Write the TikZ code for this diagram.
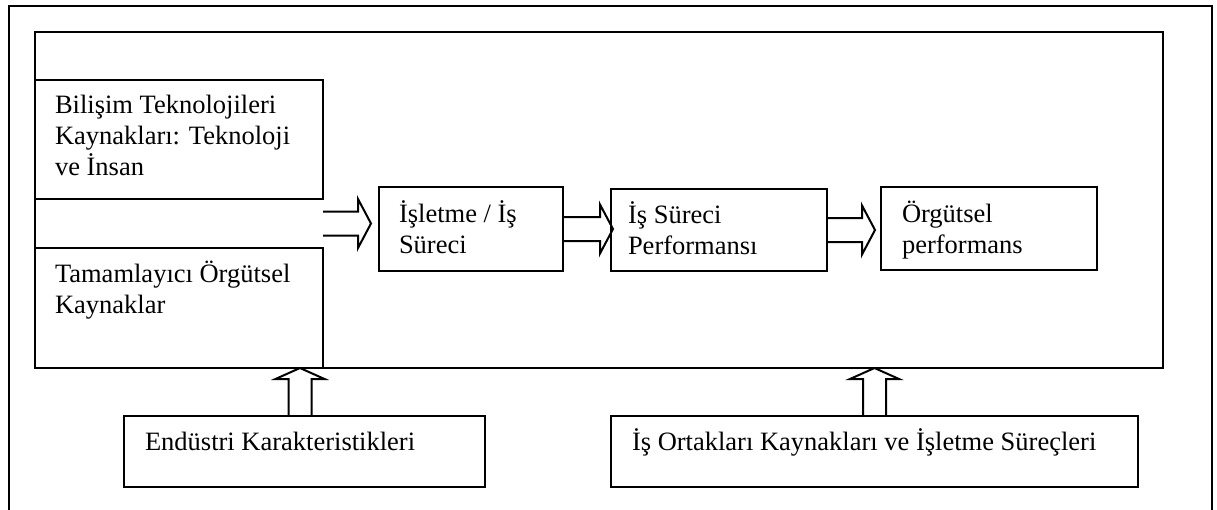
\documentclass[tikz,border=0pt]{standalone}
\usepackage{fontspec}
\setmainfont{Liberation Serif}
\usetikzlibrary{calc}

\tikzset{
  ink/.style={line width=2pt, line join=miter},
  box/.style={ink, draw, rectangle, inner sep=0pt, outer sep=0pt, anchor=north west},
  % multi-line texts are placed by the baseline of their last line
  boxtext/.style={anchor=base west, inner sep=0pt, outer sep=0pt, align=left,
    font=\fontsize{26.5}{31}\selectfont},
  blockarrow/.style={ink},
}

% horizontal block arrow: #1 = start of shaft, #2 = tip (same height)
\newcommand{\blockarrowh}[2]{%
  \draw[blockarrow] ($(#1)+(0,-12)$) -- ($(#2)+(-13,-12)$) -- ($(#2)+(-13,-24.5)$)
    -- (#2) -- ($(#2)+(-13,24.5)$) -- ($(#2)+(-13,12)$) -- ($(#1)+(0,12)$);}
% upward block arrow: #1 = foot of shaft, #2 = tip
\newcommand{\blockarrowv}[2]{%
  \draw[blockarrow] ($(#1)+(-11.5,0)$) -- ($(#2)+(-11.5,11)$) -- ($(#2)+(-24.5,11)$)
    -- (#2) -- ($(#2)+(24.5,11)$) -- ($(#2)+(11.5,11)$) -- ($(#1)+(11.5,0)$);}

\begin{document}
\begin{tikzpicture}[x=1pt, y=-1pt]
\useasboundingbox (0,0) rectangle (1217,509);

% page frame (open at the bottom)
\draw[ink] (9,520) -- (9,6) -- (1212,6) -- (1212,520);

% enclosing box
\node[box, minimum width=1128pt, minimum height=336pt] (inner) at (35,32) {};

% resource boxes
\node[box, minimum width=288pt, minimum height=119pt] (bt)  at (35,80)  {};
\node[box, minimum width=288pt, minimum height=120pt] (tam) at (35,248) {};

% process chain
\node[box, minimum width=184pt, minimum height=84pt] (isl) at (379,187) {};
\node[box, minimum width=216pt, minimum height=82pt] (iss) at (611,189) {};
\node[box, minimum width=216pt, minimum height=83pt] (org) at (881,187) {};

% external factors
\node[box, minimum width=361pt, minimum height=71pt] (end) at (124,416) {};
\node[box, minimum width=527pt, minimum height=71pt] (ort) at (611,416) {};

% texts
\node[boxtext] (btT)  at (55,175)  {Bilişim Teknolojileri\\Kaynakları: Teknoloji\\ve İnsan};
\node[boxtext] (tamT) at (55,313)  {Tamamlayıcı Örgütsel\\Kaynaklar};
\node[boxtext] (islT) at (399,253) {İşletme / İş\\Süreci};
\node[boxtext] (issT) at (628,254) {İş Süreci\\Performansı};
\node[boxtext] (orgT) at (902,253) {Örgütsel\\performans};
\node[boxtext] (endT) at (145,450) {Endüstri Karakteristikleri};
\node[boxtext] (ortT) at (632,450) {İş Ortakları Kaynakları ve İşletme Süreçleri};

% arrows along the chain
\coordinate (a1s) at ($(bt.south east)!0.5!(tam.north east)$);
\coordinate (a1t) at ($(a1s)+(48,0)$);
\blockarrowh{a1s}{a1t}
\coordinate (a2t) at ($(isl.east)+(50,0)$);
\blockarrowh{isl.east}{a2t}
\coordinate (a3t) at ($(iss.east)+(48,0)$);
\blockarrowh{iss.east}{a3t}

% arrows from the external factors
\coordinate (u1s) at ($(end.north west)+(176,0)$);
\coordinate (u1t) at (u1s |- inner.south);
\blockarrowv{u1s}{u1t}
\coordinate (u2t) at (ort.north |- inner.south);
\blockarrowv{ort.north}{u2t}
\end{tikzpicture}
\end{document}
